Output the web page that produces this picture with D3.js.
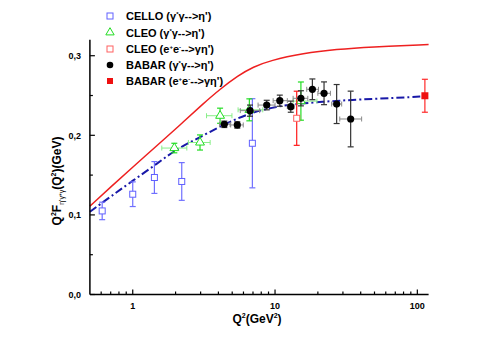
<!DOCTYPE html>
<html>
<head>
<meta charset="utf-8">
<script src="https://cdn.jsdelivr.net/npm/d3@7"></script>
<style>
body { margin: 0; background: #fff; }
svg { font-family: Arial, "Liberation Sans", sans-serif; }
</style>
</head>
<body>
<div id="canvas"></div>
<script>
var width = 498;
var height = 353;

// CELLO (gamma* gamma -> eta')
const celloQ2 = [0.61, 1.0, 1.42, 2.21, 6.93];
const celloF = [0.105, 0.126, 0.147, 0.142, 0.190];
const celloErr = [0.011, 0.0155, 0.020, 0.0237, 0.056];

// CLEO (gamma* gamma -> eta')
const cleoQ2 = [1.96, 2.97, 4.11, 6.6, 15.2];
const cleoF = [0.184, 0.191, 0.2246, 0.232, 0.243];
const cleoErr = [0.006, 0.0095, 0.0095, 0.0138, 0.024];
const cleoQ2Lo = [1.6, 2.46, 3.3, 5.5, 13.4];
const cleoQ2Hi = [2.4, 3.5, 4.98, 8.2, 19.7];

// CLEO (e+e- -> gamma eta')
const cleoEeQ2 = [14.2];
const cleoEeF = [0.2214];
const cleoEeErr = [0.034];

// BABAR (gamma* gamma -> eta')
const babarQ2 = [4.4, 5.43, 6.67, 8.74, 10.8, 12.9, 15.2, 18.3, 22.1, 27.1, 34];
const babarF = [0.2138, 0.213, 0.231, 0.238, 0.2435, 0.236, 0.2465, 0.2578, 0.2528, 0.2393, 0.2205];
const babarErr = [0.004, 0.004, 0.007, 0.006, 0.007, 0.007, 0.0095, 0.013, 0.0143, 0.0245, 0.035];
const babarQ2Lo = [4.07, 4.88, 5.7, 7.6, 9.7, 12.2, 13.4, 16.7, 20, 25, 28.5];
const babarQ2Hi = [4.83, 5.98, 7.8, 10, 12.2, 13.6, 17, 20.2, 24.5, 29.4, 40.6];

// BABAR (e+e- -> gamma eta')
const babarEeQ2 = [113];
const babarEeF = [0.2497];
const babarEeErr = [0.0207];

// red solid curve
const redQ2 = [0.5, 0.7, 1.0, 1.5, 2.15, 3.14, 4.11, 5.49, 7.04, 9.22, 15.8, 27.1, 46.5, 120];
const redF = [0.111, 0.135, 0.160, 0.188, 0.213, 0.240, 0.258, 0.275, 0.286, 0.294, 0.303, 0.308, 0.311, 0.314];

// blue dash-dot curve
const blueQ2 = [0.5, 0.7, 1.0, 1.5, 2.0, 3.0, 4.5, 6.7, 10, 15, 25, 40, 70, 113];
const blueF = [0.104, 0.123, 0.143, 0.165, 0.182, 0.198, 0.215, 0.228, 0.236, 0.240, 0.243, 0.245, 0.247, 0.249];

const yTicks = [0, 0.1, 0.2, 0.3];
const yMinor = [0.05, 0.15, 0.25];
const xTicks = [1, 10, 100];
const xMinor = [0.6, 0.7, 0.8, 0.9, 2, 3, 4, 5, 6, 7, 8, 9, 20, 30, 40, 50, 60, 70, 80, 90];

var svg = d3.select("#canvas").append("svg")
    .attr("width", width)
    .attr("height", height);

const x = d3.scaleLog().domain([0.5, 120]).range([89.9, 428.6]);
const y = d3.scaleLinear().domain([0, 0.32]).range([294.5, 39.8]);

// curves
const line = d3.line()
    .x(d => x(d[0]))
    .y(d => y(d[1]))
    .curve(d3.curveBasis);

svg.append("path")
    .attr("d", line(d3.zip(redQ2, redF)))
    .attr("fill", "none")
    .attr("stroke", "#ee2020")
    .attr("stroke-width", 1.5);

svg.append("path")
    .attr("d", line(d3.zip(blueQ2, blueF)))
    .attr("fill", "none")
    .attr("stroke", "#1818a8")
    .attr("stroke-width", 2)
    .attr("stroke-dasharray", "8,3,2,3");

// error bar helpers
function vbars(q, f, e, color) {
  var g = svg.append("g").attr("stroke", color).attr("stroke-width", 1.2);
  q.forEach(function(v, i) {
    var cx = x(v);
    g.append("line").attr("x1", cx).attr("x2", cx).attr("y1", y(f[i] - e[i])).attr("y2", y(f[i] + e[i]));
    g.append("line").attr("x1", cx - 3).attr("x2", cx + 3).attr("y1", y(f[i] - e[i])).attr("y2", y(f[i] - e[i]));
    g.append("line").attr("x1", cx - 3).attr("x2", cx + 3).attr("y1", y(f[i] + e[i])).attr("y2", y(f[i] + e[i]));
  });
}
function hbars(lo, hi, f, color) {
  var g = svg.append("g").attr("stroke", color).attr("stroke-width", 1);
  lo.forEach(function(v, i) {
    var cy = y(f[i]);
    g.append("line").attr("x1", x(v)).attr("x2", x(hi[i])).attr("y1", cy).attr("y2", cy);
    g.append("line").attr("x1", x(v)).attr("x2", x(v)).attr("y1", cy - 2.5).attr("y2", cy + 2.5);
    g.append("line").attr("x1", x(hi[i])).attr("x2", x(hi[i])).attr("y1", cy - 2.5).attr("y2", cy + 2.5);
  });
}

// CELLO
vbars(celloQ2, celloF, celloErr, "#7070ff");
svg.selectAll(".cello").data(d3.zip(celloQ2, celloF)).enter().append("rect")
    .attr("x", d => x(d[0]) - 3).attr("y", d => y(d[1]) - 3)
    .attr("width", 6).attr("height", 6)
    .attr("fill", "#fff").attr("stroke", "#6060ff").attr("stroke-width", 1);

// CLEO gamma gamma
hbars(cleoQ2Lo, cleoQ2Hi, cleoF, "#88ee88");
vbars(cleoQ2, cleoF, cleoErr, "#22dd22");
svg.selectAll(".cleo").data(d3.zip(cleoQ2, cleoF)).enter().append("path")
    .attr("d", d3.symbol(d3.symbolTriangle, 34))
    .attr("transform", d => "translate(" + x(d[0]) + "," + y(d[1]) + ")")
    .attr("fill", "#fff").attr("stroke", "#22dd22").attr("stroke-width", 1);

// CLEO e+e-
vbars(cleoEeQ2, cleoEeF, cleoEeErr, "#ff1a1a");
svg.selectAll(".cleoee").data(d3.zip(cleoEeQ2, cleoEeF)).enter().append("rect")
    .attr("x", d => x(d[0]) - 3).attr("y", d => y(d[1]) - 3)
    .attr("width", 6).attr("height", 6)
    .attr("fill", "#fff").attr("stroke", "#ff6060").attr("stroke-width", 1);

// BABAR gamma gamma
hbars(babarQ2Lo, babarQ2Hi, babarF, "#888");
vbars(babarQ2, babarF, babarErr, "#333");
svg.selectAll(".babar").data(d3.zip(babarQ2, babarF)).enter().append("circle")
    .attr("cx", d => x(d[0])).attr("cy", d => y(d[1])).attr("r", 3.6)
    .attr("fill", "#000");

// BABAR e+e-
vbars(babarEeQ2, babarEeF, babarEeErr, "#ff2a2a");
svg.selectAll(".babaree").data(d3.zip(babarEeQ2, babarEeF)).enter().append("rect")
    .attr("x", d => x(d[0]) - 3.5).attr("y", d => y(d[1]) - 3.5)
    .attr("width", 7).attr("height", 7)
    .attr("fill", "#ee1010");

// axes
svg.append("line").attr("x1", x(0.5)).attr("x2", x(0.5)).attr("y1", y(0)).attr("y2", y(0.32))
    .attr("stroke", "#000").attr("stroke-width", 1.5);
svg.append("line").attr("x1", x(0.5)).attr("x2", x(120)).attr("y1", y(0)).attr("y2", y(0))
    .attr("stroke", "#000").attr("stroke-width", 1.5);

var ticks = svg.append("g").attr("stroke", "#000").attr("stroke-width", 1.2);
yTicks.forEach(function(t) {
  ticks.append("line").attr("x1", x(0.5)).attr("x2", x(0.5) + 5).attr("y1", y(t)).attr("y2", y(t));
});
yMinor.forEach(function(t) {
  ticks.append("line").attr("x1", x(0.5)).attr("x2", x(0.5) + 3).attr("y1", y(t)).attr("y2", y(t));
});
xTicks.forEach(function(t) {
  ticks.append("line").attr("x1", x(t)).attr("x2", x(t)).attr("y1", y(0)).attr("y2", y(0) - 5);
});
xMinor.forEach(function(t) {
  ticks.append("line").attr("x1", x(t)).attr("x2", x(t)).attr("y1", y(0)).attr("y2", y(0) - 3);
});

svg.selectAll(".ylab").data(yTicks).enter().append("text")
    .attr("x", 81).attr("y", d => y(d) + 3.5)
    .attr("text-anchor", "end")
    .attr("font-size", 9).attr("font-weight", "bold")
    .text(d => d3.format(".1f")(d).replace(".", ","));

svg.selectAll(".xlab").data(xTicks).enter().append("text")
    .attr("x", d => x(d)).attr("y", 309)
    .attr("text-anchor", "middle")
    .attr("font-size", 9).attr("font-weight", "bold")
    .text(d => d);

// axis titles
var xt = svg.append("text").attr("x", 257).attr("y", 323)
    .attr("text-anchor", "middle").attr("font-size", 12).attr("font-weight", "bold");
xt.append("tspan").text("Q");
xt.append("tspan").attr("font-size", 7).attr("dy", -5).text("2");
xt.append("tspan").attr("dy", 5).text("(GeV");
xt.append("tspan").attr("font-size", 7).attr("dy", -5).text("2");
xt.append("tspan").attr("dy", 5).text(")");

var yt = svg.append("text").attr("transform", "translate(61,181) rotate(-90)")
    .attr("text-anchor", "middle").attr("font-size", 12).attr("font-weight", "bold");
yt.append("tspan").text("Q");
yt.append("tspan").attr("font-size", 7).attr("dy", -5).text("2");
yt.append("tspan").attr("dy", 5).text("F");
yt.append("tspan").attr("font-size", 7).attr("font-weight", "normal").attr("dy", 3).text("η'γ*γ");
yt.append("tspan").attr("dy", -3).text("(Q");
yt.append("tspan").attr("font-size", 7).attr("dy", -5).text("2");
yt.append("tspan").attr("dy", 5).text(")(GeV)");

// legend
const legendNames = ["CELLO", "CLEO", "CLEO", "BABAR", "BABAR"];
const legendProc = ["gg", "gg", "ee", "gg", "ee"];
const legendY = [16, 32.5, 49, 65, 81];
var lg = svg.append("g");
legendNames.forEach(function(name, i) {
  var ly = legendY[i];
  var mx = 110;
  if (i === 0) lg.append("rect").attr("x", mx - 3).attr("y", ly - 3).attr("width", 6).attr("height", 6).attr("fill", "#fff").attr("stroke", "#6060ff");
  if (i === 1) lg.append("path").attr("d", d3.symbol(d3.symbolTriangle, 30)).attr("transform", "translate(" + mx + "," + ly + ")").attr("fill", "#fff").attr("stroke", "#22dd22");
  if (i === 2) lg.append("rect").attr("x", mx - 3).attr("y", ly - 3).attr("width", 6).attr("height", 6).attr("fill", "#fff").attr("stroke", "#ff6060");
  if (i === 3) lg.append("circle").attr("cx", mx).attr("cy", ly).attr("r", 3.3).attr("fill", "#000");
  if (i === 4) lg.append("rect").attr("x", mx - 3).attr("y", ly - 3).attr("width", 6).attr("height", 6).attr("fill", "#ee1010");

  var t = lg.append("text").attr("x", 126).attr("y", ly + 4).attr("font-size", 11).attr("font-weight", "bold");
  t.append("tspan").text(name + (i === 4 ? "  (" : " ("));
  if (legendProc[i] === "gg") {
    t.append("tspan").text("γ");
    t.append("tspan").attr("font-size", 6).attr("dy", -4).text("*");
    t.append("tspan").attr("dy", 4).text("γ-->η')");
  } else {
    t.append("tspan").text("e");
    t.append("tspan").attr("font-size", 6).attr("dy", -4).text("+");
    t.append("tspan").attr("dy", 4).text("e");
    t.append("tspan").attr("font-size", 6).attr("dy", -4).text("-");
    t.append("tspan").attr("dy", 4).text("-->γη')");
  }
});
</script>
</body>
</html>
